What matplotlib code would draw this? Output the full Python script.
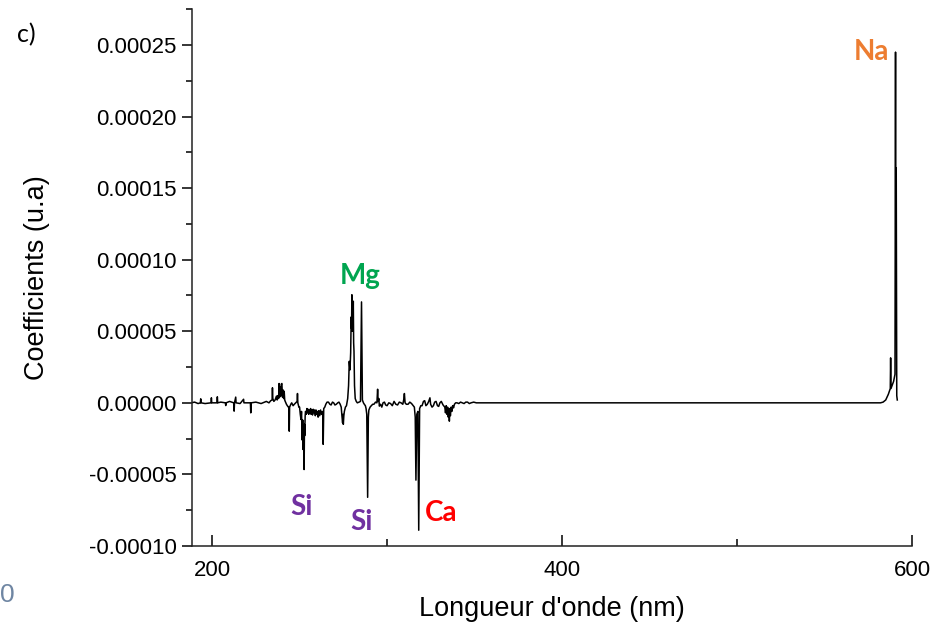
"""Spectre des coefficients (c)"""

import numpy as np
import matplotlib
matplotlib.use("Agg")
import matplotlib.pyplot as plt
from matplotlib.ticker import MultipleLocator, FormatStrFormatter

# Longueur d'onde (nm) et coefficients (x 1e-5), lus sur la figure
# zone 188-250 nm
wl_a = [
    188.0, 190.0, 192.0, 193.3, 193.5, 193.7, 196.0, 199.4, 199.6, 199.8,
    202.8, 203.0, 203.2, 205.0, 207.6, 207.8, 208.0, 210.0, 212.4, 212.6,
    212.8, 213.5, 213.7, 216.0, 218.0, 218.2, 221.9, 222.1, 222.3, 225.0,
    228.0, 231.0, 232.5, 233.5, 234.3, 234.5, 234.7, 235.3, 236.0, 236.8,
    237.2, 237.6, 238.0, 238.3, 238.6, 238.9, 239.2, 239.5, 239.9, 240.2,
    240.6, 240.9, 241.2, 241.5, 241.8, 242.5, 243.0, 243.6, 243.9, 244.1,
    244.3, 245.0, 245.5, 246.3, 247.0, 247.8, 248.6, 248.8, 249.0, 249.6,
]
coef_a = [
    0.0, 0.05, -0.05, 0.0, 0.28, 0.0, -0.05, 0.0, 0.35, 0.0,
    0.0, 0.42, 0.0, 0.05, 0.0, -0.19, 0.0, 0.1, 0.0, -0.58,
    0.0, 0.4, 0.0, -0.05, 0.25, 0.0, 0.0, -0.70, 0.0, 0.05,
    -0.05, 0.1, 0.0, 0.15, 0.2, 1.05, 0.3, 0.1, 0.2, 0.47,
    0.2, 0.5, 0.3, 1.35, 0.4, 1.1, 0.5, 1.3, 1.35, 0.4,
    0.9, 0.3, 0.81, 0.2, 0.1, -0.1, -0.2, -0.3, -0.3, -1.98,
    -0.3, -0.1, 0.0, -0.2, -0.1, 0.0, 0.1, 0.65, 0.0, -0.3,
]
# zone 250-301 nm (Si, Mg)
wl_b = [
    250.0, 250.4, 250.8, 251.1, 251.5, 251.8, 252.0, 252.2, 252.4, 252.6,
    252.8, 252.9, 253.2, 253.4, 253.8, 254.2, 254.5, 254.9, 255.2, 255.5,
    255.9, 256.3, 256.6, 257.0, 257.4, 257.8, 258.2, 258.6, 259.0, 259.4,
    259.8, 260.2, 260.6, 261.0, 261.5, 262.0, 262.5, 263.0, 263.3, 263.5,
    263.8, 264.4, 265.0, 265.7, 266.5, 267.3, 268.0, 268.8, 269.5, 270.2,
    271.0, 271.8, 272.5, 273.2, 273.8, 274.2, 274.6, 274.8, 275.0, 275.3,
    275.6, 276.2, 276.8, 277.5, 278.0, 278.4, 278.8, 279.2, 279.5, 279.7,
    279.9, 280.1, 280.3, 280.5, 280.7, 280.9, 281.1, 281.4, 281.8, 282.4,
    283.0, 284.0, 284.8, 285.4, 285.9, 286.5, 287.0, 287.6, 288.0, 288.4,
    288.9, 289.3, 289.6, 290.3, 291.0, 291.8, 292.5, 293.4, 294.2, 294.6,
    294.9, 295.3, 295.6, 296.3, 297.0, 297.7, 298.5, 299.2, 300.0, 301.0,
]
coef_b = [
    -0.3, -0.8, -1.16, -0.6, -2.6, -1.2, -3.26, -1.8, -2.7, -4.66,
    -1.5, -2.3, -0.9, -0.6, -0.8, -0.4, -0.7, -0.45, -0.8, -0.5,
    -0.75, -0.4, -0.8, -0.5, -0.85, -0.45, -0.7, -0.5, -0.9, -0.5,
    -0.8, -0.6, -1.0, -0.55, -0.9, -0.5, -0.8, -0.6, -1.0, -2.9,
    -0.4, -0.3, -0.1, 0.05, 0.05, -0.1, -0.15, 0.05, 0.0, -0.15,
    -0.1, 0.0, 0.05, -0.1, -0.3, -0.9, -1.4, -0.8, -1.5, -0.9,
    -0.6, -0.3, -0.2, 0.3, 1.2, 2.9, 2.3, 3.5, 6.0, 5.2,
    7.55, 5.0, 6.4, 5.1, 7.1, 4.2, 3.6, 1.2, 0.3, 0.1,
    0.0, 0.05, 0.1, 7.05, 0.2, 0.0, -0.1, -0.2, -0.4, -0.8,
    -6.6, -1.0, -0.5, -0.3, -0.2, -0.1, -0.1, 0.05, 0.0, 0.95,
    0.1, 0.3, -0.23, -0.1, -0.3, 0.0, 0.05, -0.15, -0.2, 0.0,
]
# zone 302-582 nm (Ca, puis ligne de base)
wl_c = [
    302.0, 303.0, 304.0, 305.0, 306.0, 307.0, 308.0, 309.0, 309.5, 309.9,
    310.3, 311.0, 312.0, 313.0, 314.0, 315.0, 315.6, 316.1, 316.5, 317.0,
    317.6, 318.1, 318.6, 319.3, 320.0, 320.8, 321.5, 322.2, 323.0, 323.8,
    324.5, 324.9, 325.7, 326.5, 327.2, 328.0, 328.8, 329.5, 330.2, 331.0,
    332.0, 333.0, 333.4, 333.8, 334.2, 334.6, 335.0, 335.3, 335.6, 335.9,
    336.2, 336.6, 337.0, 337.5, 338.0, 338.5, 339.2, 340.0, 341.0, 342.0,
    343.0, 344.0, 345.0, 346.0, 347.0, 348.0, 349.5, 351.0, 420.0, 582.0,
]
coef_c = [
    -0.05, -0.2, 0.1, -0.1, -0.15, 0.05, 0.0, -0.1, 0.2, 0.65,
    0.0, -0.1, -0.1, 0.05, -0.05, -0.2, -0.3, -1.0, -5.4, -0.8,
    -0.6, -8.9, -0.4, -0.2, -0.2, 0.1, 0.15, -0.2, -0.1, 0.1,
    0.35, -0.1, -0.3, -0.2, 0.05, 0.1, -0.2, -0.25, 0.0, 0.1,
    -0.15, -0.3, -0.7, -0.2, -0.8, -0.3, -1.0, -0.4, -1.28, -0.4,
    -0.9, -0.3, -0.6, -0.2, -0.35, -0.1, 0.0, 0.0, -0.05, 0.05,
    0.0, -0.05, 0.05, 0.05, -0.05, 0.0, 0.05, 0.0, 0.0, 0.0,
]
# zone Na
wl_d = [583.5, 585.0, 586.5, 587.6, 587.8, 588.0, 589.5, 590.3, 590.6,
        590.8, 591.0, 591.3, 591.6]
coef_d = [0.05, 0.2, 0.6, 1.0, 3.14, 1.0, 1.5, 2.0, 24.5,
          5.0, 16.4, 0.5, 0.2]

# Etiquettes des elements
elements = ["Mg", "Si", "Si", "Ca", "Na"]
elem_x = [284.7, 250.9, 285.3, 331.0, 577.1]
elem_y = [8.87, -7.26, -8.31, -7.68, 24.5]
elem_colors = ["#00a550", "#7030a0", "#7030a0", "#ff0000", "#ed7d31"]

x = np.concatenate([wl_a, wl_b, wl_c, wl_d])
y = np.concatenate([coef_a, coef_b, coef_c, coef_d]) * 1e-5

fig = plt.figure(figsize=(9.48, 6.28), dpi=100)
ax = fig.add_axes([0.2025, 0.1306, 0.7595, 0.8548])

ax.plot(x, y, color="black", lw=1.1)

for name, ex, ey, c in zip(elements, elem_x, elem_y, elem_colors):
    ax.text(ex, ey * 1e-5, name, color=c, fontsize=20, fontweight="bold",
            family="Lato", ha="center", va="center")

ax.set_xlim(188.5, 600)
ax.set_ylim(-0.0001, 0.000275)
ax.spines["top"].set_visible(False)
ax.spines["right"].set_visible(False)
for s in ["left", "bottom"]:
    ax.spines[s].set_linewidth(1.1)
    ax.spines[s].set_color("#222222")

ax.xaxis.set_major_locator(MultipleLocator(200))
ax.xaxis.set_minor_locator(MultipleLocator(100))
ax.yaxis.set_major_locator(MultipleLocator(0.00005))
ax.yaxis.set_minor_locator(MultipleLocator(0.000025))
ax.yaxis.set_major_formatter(FormatStrFormatter("%.5f"))

ax.tick_params(axis="x", which="major", direction="in", length=8, width=1.1,
               labelsize=16, pad=10)
ax.tick_params(axis="x", which="minor", direction="in", length=5, width=1.1)
ax.tick_params(axis="y", which="major", direction="out", length=7, width=1.1,
               labelsize=16, pad=4)
ax.tick_params(axis="y", which="minor", direction="out", length=4, width=1.1)
for lab in ax.get_xticklabels() + ax.get_yticklabels():
    lab.set_family("Liberation Sans")

ax.set_xlabel("Longueur d'onde (nm)", fontsize=19.5, family="Liberation Sans")
ax.set_ylabel("Coefficients (u.a)", fontsize=19.5, family="Liberation Sans")
ax.xaxis.set_label_coords(0.5, -0.093)
ax.yaxis.set_label_coords(-0.197, 0.5)

fig.text(0.028, 0.945, "c)", fontsize=18, family="Lato", ha="center",
         va="center")
fig.text(0.0, 0.052, "0", fontsize=19, family="Liberation Sans",
         color="#6f86a3", ha="left", va="center")

fig.savefig("out.png", dpi=100)
